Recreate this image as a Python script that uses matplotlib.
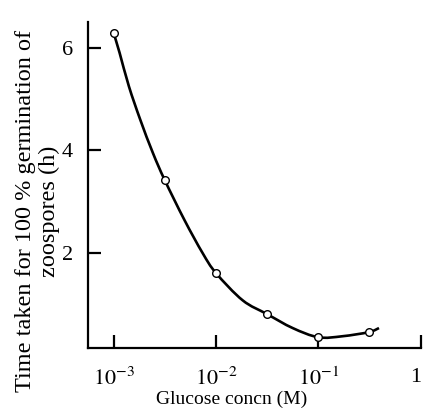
import numpy as np
import matplotlib.pyplot as plt
from matplotlib.path import Path
from matplotlib.patches import PathPatch

plt.rcParams['font.family'] = ['Liberation Serif', 'DejaVu Serif']
plt.rcParams['mathtext.fontset'] = 'stix'

# measured points (open circles)
conc = [1e-3, 3.16e-3, 1e-2, 3.16e-2, 1e-1, 3.1e-1]
hours = [6.29, 3.42, 1.61, 0.81, 0.36, 0.46]

# hand traced smooth curve through the points
curve_conc = [1e-3, 1.145e-3, 1.41e-3, 1.82e-3, 2.42e-3, 3.16e-3, 4.93e-3, 7.4e-3, 1e-2,
              1.82e-2, 3.16e-2, 5.6e-2, 1e-1, 1.71e-1, 3.1e-1, 3.9e-1]
curve_hours = [6.29, 5.9, 5.25, 4.6, 3.95, 3.42, 2.64, 2.0, 1.61,
               1.08, 0.81, 0.54, 0.36, 0.38, 0.46, 0.54]

xticks = [1e-3, 1e-2, 1e-1, 1]
xticklabels = [r'$10^{-3}$', r'$10^{-2}$', r'$10^{-1}$', '1']
yticks = [2, 4, 6]


def smooth_path(xs, ys):
    # Catmull-Rom through the traced points, as cubic bezier segments (log x)
    lx = np.log10(xs)
    y = np.asarray(ys, dtype=float)
    pts = np.column_stack([lx, y])
    verts = [pts[0]]
    codes = [Path.MOVETO]
    n = len(pts)
    for i in range(n - 1):
        p0 = pts[max(i - 1, 0)]
        p1 = pts[i]
        p2 = pts[i + 1]
        p3 = pts[min(i + 2, n - 1)]
        c1 = p1 + (p2 - p0) / 6.0
        c2 = p2 - (p3 - p1) / 6.0
        verts += [c1, c2, p2]
        codes += [Path.CURVE4] * 3
    verts = np.array(verts)
    verts[:, 0] = 10 ** verts[:, 0]
    return Path(verts, codes)


fig = plt.figure(figsize=(4.23, 4.09), dpi=100)
ax = fig.add_axes([0.208, 0.149, 0.787, 0.797])

ax.set_xscale('log')
ax.add_patch(PathPatch(smooth_path(curve_conc, curve_hours), fill=False,
                       edgecolor='black', lw=1.9, zorder=2))
ax.plot(conc, hours, 'o', ms=5.5, mfc='white', mec='black', mew=1.0, zorder=3)

ax.set_xlim(10 ** -3.25, 1)
ax.set_ylim(0.15, 6.5)

ax.set_xticks(xticks)
ax.set_xticklabels(xticklabels)
ax.get_xticklabels()[-1].set_horizontalalignment('right')
ax.minorticks_off()
ax.set_yticks(yticks)

ax.tick_params(axis='both', direction='in', length=9.5, width=1.6, labelsize=16)
ax.tick_params(axis='x', pad=14)
ax.tick_params(axis='y', pad=11)

for side in ['top', 'right']:
    ax.spines[side].set_visible(False)
for side in ['left', 'bottom']:
    ax.spines[side].set_linewidth(1.6)

ax.set_ylabel('Time taken for 100 % germination of\nzoospores (h)', fontsize=17.5,
              linespacing=1.2)
ax.yaxis.set_label_coords(-0.084, 0.42)
ax.set_xlabel('Glucose concn (M)', fontsize=14)
ax.xaxis.set_label_coords(0.432, -0.13)

fig.savefig('out.png', dpi=100)
